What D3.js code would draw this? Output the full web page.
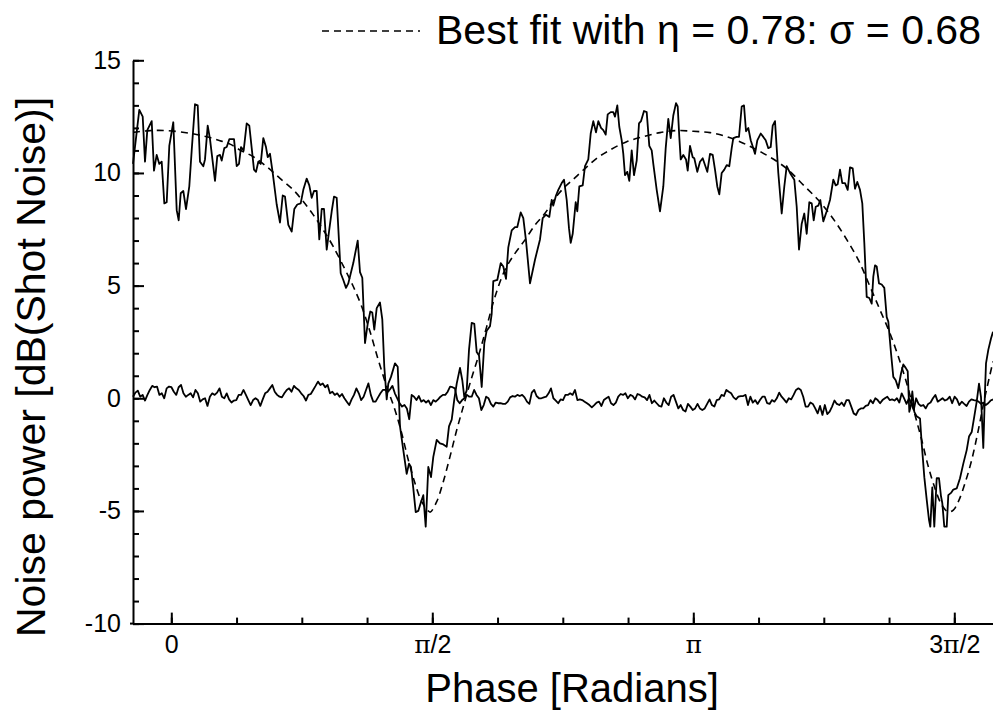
<!DOCTYPE html>
<html>
<head>
<meta charset="utf-8">
<script src="https://cdn.jsdelivr.net/npm/d3@7"></script>
<style>
  body { margin: 0; background: #fff; }
  svg { display: block; }
  text { font-family: "Liberation Sans", Arial, Helvetica, sans-serif; fill: #000; }
</style>
</head>
<body>
<svg id="chart" width="993" height="715"></svg>
<script>
// Homodyne noise power of the squeezed beam as the local-oscillator phase is swept: [phase (rad), dB]
const measuredNoise = [
  [-0.2305,10.4],[-0.1926,12.8],[-0.1721,12.5],[-0.1583,10.5],[-0.1444,11.9],[-0.118,12.3],[-0.1041,10.1],[-0.0879,10.8],[-0.0722,10.4],[-0.0578,10.5],
  [-0.0421,8.65],[-0.0277,8.7],[-0.012,11.2],[0.012,12.25],[0.0325,8.35],[0.0445,7.9],[0.0566,9.1],[0.0722,9.2],[0.0885,8.4],[0.1083,9.4],
  [0.1228,11.0],[0.1426,13.05],[0.1589,13.0],[0.1727,10.5],[0.1926,10.3],[0.2028,10.6],[0.2191,12.1],[0.2329,11.5],[0.263,9.65],[0.2768,10.75],
  [0.2931,10.8],[0.3033,10.55],[0.319,11.1],[0.3334,11.15],[0.3491,11.5],[0.3774,11.5],[0.3936,10.3],[0.4074,10.4],[0.4195,11.15],[0.4357,11.0],
  [0.4538,12.2],[0.4694,12.1],[0.4839,11.1],[0.4977,10.15],[0.5098,10.05],[0.5236,10.5],[0.538,10.4],[0.5537,11.55],[0.5699,11.15],[0.5802,10.7],
  [0.594,10.85],[0.6103,10.0],[0.6343,8.6],[0.6542,7.8],[0.6705,9.0],[0.6843,8.95],[0.7042,7.7],[0.7246,7.4],[0.7403,8.4],[0.7583,8.6],
  [0.7788,8.65],[0.7944,9.25],[0.8149,9.75],[0.8305,9.45],[0.845,8.9],[0.8588,9.2],[0.8751,9.2],[0.8907,7.05],[0.9052,8.4],[0.919,8.4],
  [0.9353,6.6],[0.9509,7.5],[0.9654,8.3],[0.9792,8.95],[0.9954,8.9],[1.0195,5.55],[1.0352,5.25],[1.0514,4.9],[1.0653,5.1],[1.0953,6.0],
  [1.1218,7.0],[1.1357,5.6],[1.1495,5.35],[1.1658,2.45],[1.182,3.3],[1.1977,3.85],[1.2097,3.8],[1.2217,3.05],[1.2362,4.0],[1.256,4.25],
  [1.2699,3.5],[1.2819,1.4],[1.2964,-0.05],[1.306,0.65],[1.3222,0.95],[1.3463,1.55],[1.3626,1.4],[1.3764,-1.25],[1.3963,-2.3],[1.4167,-3.35],
  [1.4306,-2.9],[1.4426,-3.05],[1.4565,-4.0],[1.4709,-5.05],[1.4865,-5.0],[1.5028,-4.6],[1.5166,-4.3],[1.5311,-5.7],[1.5467,-3.05],[1.563,-3.5],
  [1.5768,-2.6],[1.5973,-1.85],[1.6171,-2.0],[1.637,-2.05],[1.6575,-2.15],[1.6713,-1.25],[1.6876,-0.95],[1.7032,-0.05],[1.7177,0.65],[1.7375,1.35],
  [1.7514,0.8],[1.7634,0.05],[1.7778,0.35],[1.7917,2.15],[1.8079,3.35],[1.8236,3.3],[1.838,2.05],[1.8519,1.9],[1.8681,0.5],[1.8838,2.45],
  [1.8982,3.0],[1.9181,3.2],[1.9283,3.75],[1.9379,5.2],[1.962,5.25],[1.9825,6.0],[1.9981,5.85],[2.0144,5.3],[2.0282,6.7],[2.0487,7.45],
  [2.0685,7.6],[2.0824,7.6],[2.1028,8.25],[2.1185,8.0],[2.1347,7.0],[2.1588,5.1],[2.1889,6.15],[2.219,7.05],[2.2352,8.0],[2.2551,8.15],
  [2.275,8.05],[2.2894,8.8],[2.299,8.55],[2.3153,9.0],[2.3291,9.25],[2.3496,9.55],[2.3634,9.7],[2.3797,8.8],[2.3935,7.55],[2.4038,6.9],
  [2.4158,7.3],[2.4338,8.7],[2.4435,8.3],[2.4555,9.4],[2.476,9.45],[2.4898,10.3],[2.5097,10.6],[2.5241,11.75],[2.5398,12.3],[2.556,11.8],
  [2.5699,12.3],[2.5861,12.0],[2.5999,11.9],[2.6144,11.7],[2.6264,12.6],[2.6445,12.7],[2.6601,12.7],[2.6704,12.5],[2.6842,13.0],[2.6962,12.05],
  [2.7107,11.45],[2.7203,10.85],[2.7305,9.9],[2.7444,10.05],[2.7564,9.65],[2.7709,11.0],[2.7847,9.9],[2.801,10.55],[2.8148,12.2],[2.8268,12.3],
  [2.8449,12.75],[2.8611,12.7],[2.8768,11.2],[2.8912,11.0],[2.9009,10.4],[2.9213,9.25],[2.9412,8.3],[2.9611,9.4],[2.9755,11.1],[2.9911,12.4],
  [3.0056,11.55],[3.0212,12.55],[3.0375,13.1],[3.0477,12.95],[3.0573,11.6],[3.0658,10.6],[3.0814,10.8],[3.0977,10.6],[3.1079,10.1],[3.1218,11.2],
  [3.138,10.7],[3.1476,10.65],[3.1657,10.05],[3.1819,10.5],[3.1982,10.65],[3.212,10.35],[3.2259,10.05],[3.2421,10.85],[3.2584,10.8],[3.2722,10.15],
  [3.286,9.4],[3.2981,9.05],[3.3125,10.0],[3.3282,10.15],[3.3426,10.35],[3.3583,10.3],[3.3727,11.1],[3.3823,11.55],[3.4028,11.6],[3.4166,11.6],
  [3.4329,12.95],[3.4467,13.0],[3.4588,11.85],[3.4726,12.0],[3.4871,11.45],[3.5027,11.1],[3.5129,10.85],[3.5268,11.45],[3.5472,11.75],[3.5629,11.6],
  [3.5773,11.45],[3.593,11.1],[3.6074,11.15],[3.6195,12.1],[3.6333,12.3],[3.6532,10.0],[3.6736,8.2],[3.6893,9.4],[3.7037,10.3],[3.7236,10.0],
  [3.7495,9.7],[3.7639,8.5],[3.7778,6.6],[3.794,7.75],[3.8096,8.2],[3.8241,7.3],[3.8397,8.7],[3.8542,8.65],[3.8662,7.9],[3.8783,8.5],
  [3.8939,8.55],[3.9059,8.8],[3.924,7.85],[3.9444,8.3],[3.9643,8.8],[3.9842,9.7],[3.9986,9.45],[4.0106,9.5],[4.0245,10.15],[4.0383,9.55],
  [4.0546,9.55],[4.0708,9.25],[4.0847,10.25],[4.1009,10.2],[4.1148,9.3],[4.1286,9.6],[4.1449,9.25],[4.1587,8.65],[4.1708,6.9],[4.1852,4.5],
  [4.2008,4.45],[4.2153,4.2],[4.2249,5.4],[4.2352,5.9],[4.2454,5.85],[4.2592,5.1],[4.2755,5.05],[4.2911,4.9],[4.3056,3.6],[4.3152,3.4],
  [4.3315,2.0],[4.3453,0.95],[4.3597,0.8],[4.3754,0.45],[4.3916,1.1],[4.4055,1.5],[4.4199,1.35],[4.432,1.2],[4.4416,-0.6],[4.4518,-0.3],
  [4.4597,0.3],[4.4717,-0.6],[4.4861,-0.8],[4.506,-0.9],[4.5162,-2.0],[4.5319,-3.5],[4.5463,-4.5],[4.5601,-5.4],[4.568,-5.7],[4.58,-3.95],
  [4.592,-5.7],[4.6065,-3.55],[4.6203,-3.55],[4.6324,-4.35],[4.6402,-4.65],[4.6522,-5.7],[4.6667,-5.7],[4.6763,-4.3],[4.6925,-4.2],[4.7064,-4.05],
  [4.7268,-4.0],[4.7467,-3.55],[4.7666,-2.9],[4.787,-2.3],[4.8009,-1.7],[4.8171,-1.5],[4.8328,-0.8],[4.8472,-0.15],[4.8611,0.65],[4.8731,0.05],
  [4.8869,-2.2],[4.8972,0.35],[4.9032,1.55],[4.917,2.15],[4.9333,2.65],[4.9453,2.95]
];

// Shot-noise reference trace, sampled evenly across the phase sweep (dB)
const shotNoisePhaseSpan = [-0.2305, 4.9453];
const shotNoiseDb = [
  0.07,0.25,0.34,0.07,0.15,-0.1,0.15,0.37,0.55,0.49,
  0.52,0.15,0.22,0.0,0.44,0.52,0.49,0.29,0.15,0.49,
  0.59,0.22,0.07,0.15,0.22,0.04,0.37,0.22,-0.15,-0.05,
  0.0,-0.34,0.07,0.22,0.15,0.25,0.44,0.07,0.0,0.22,
  -0.05,-0.19,-0.1,-0.08,0.15,0.15,0.37,0.15,-0.08,-0.3,
  -0.08,0.0,-0.08,-0.34,-0.05,0.22,0.29,0.44,0.59,0.29,
  0.15,0.07,0.04,0.22,0.37,0.44,0.29,0.55,0.44,0.37,
  0.22,0.1,-0.1,0.15,0.19,0.37,0.55,0.74,0.59,0.66,
  0.49,0.59,0.22,0.29,0.15,0.22,0.07,0.19,0.0,-0.15,
  -0.3,-0.05,0.15,0.44,0.22,-0.08,0.07,0.37,0.66,0.15,
  -0.15,-0.15,0.04,0.22,0.37,0.37,0.29,0.4,0.55,0.22,
  0.0,-0.22,-0.37,-0.3,-0.45,-0.93,0.15,0.07,-0.08,0.1,
  -0.15,-0.08,-0.19,-0.1,-0.3,-0.08,-0.15,-0.05,0.07,0.15,
  0.15,0.29,0.52,0.49,0.44,-0.08,-0.22,-0.08,0.0,0.15,
  0.07,0.07,0.37,0.15,0.0,-0.52,-0.3,0.07,0.0,-0.25,
  -0.37,-0.19,-0.22,-0.22,-0.25,-0.25,-0.15,0.04,0.1,0.07,
  0.15,0.1,0.15,0.04,-0.15,-0.25,0.25,0.37,0.1,0.0,
  0.0,0.04,0.07,0.22,0.44,0.0,-0.1,-0.22,-0.05,-0.08,
  0.15,0.15,0.22,0.15,0.37,-0.08,-0.05,-0.08,-0.15,-0.22,
  -0.3,-0.4,-0.3,-0.19,-0.15,-0.34,-0.08,0.0,0.07,-0.22,
  -0.3,-0.19,0.07,0.19,0.15,0.22,0.0,0.15,0.1,-0.05,
  0.19,0.15,0.07,0.04,-0.08,0.15,-0.22,-0.1,-0.22,-0.34,
  -0.37,0.0,-0.19,-0.3,0.07,0.15,-0.15,-0.45,-0.3,-0.52,
  -0.59,-0.25,-0.37,-0.52,-0.45,-0.25,-0.45,-0.52,-0.45,-0.25,
  -0.05,-0.3,-0.37,-0.08,-0.05,0.15,0.1,0.37,0.29,0.22,
  0.04,-0.05,0.07,0.1,0.1,0.15,-0.3,0.07,-0.19,-0.08,
  -0.25,-0.08,0.07,
  0.07,-0.22,-0.25,-0.08,-0.15,0.0,0.25,0.07,-0.05,-0.19,
  0.0,-0.05,0.15,0.37,0.44,0.37,0.07,-0.37,-0.37,-0.19,
  -0.25,-0.45,-0.67,-0.34,-0.74,-0.3,-0.7,-0.59,-0.37,-0.1,
  -0.25,-0.3,-0.19,-0.34,-0.08,-0.08,-0.37,-0.67,-0.74,-0.52,
  -0.45,-0.45,-0.34,-0.3,-0.08,-0.22,0.0,-0.08,-0.22,-0.08,
  0.0,0.07,-0.08,-0.05,-0.1,0.0,-0.19,0.22,0.0,-0.25,
  0.0,-0.22,-0.52,0.0,-0.25,-0.34,-0.3,-0.45,-0.25,-0.19,
  0.0,0.15,-0.15,-0.08,0.0,-0.1,-0.05,0.07,-0.22,0.07,
  -0.05,-0.3,-0.15,-0.25,-0.34,-0.15,-0.05,-0.08,-0.1,-0.15,
  -0.25,-0.19,-0.3,-0.22,-0.1,-0.05
];

// Best-fit prediction (dashed): [phase (rad), dB]
const fitCurve = [
  [-0.2305,11.8],[-0.1282,11.88],[-0.0277,11.88],[0.1125,11.76],[0.2131,11.61],[0.2931,11.43],[0.3533,11.28],[0.4135,11.02],
  [0.4935,10.72],[0.5742,10.28],[0.6542,9.76],[0.7342,9.25],[0.7944,8.73],[0.8546,8.14],[0.9148,7.47],[0.975,6.73],
  [1.0454,5.72],[1.0953,4.96],[1.1459,4.07],[1.1959,2.96],[1.2458,1.7],[1.2964,0.52],[1.3463,-0.52],[1.3866,-1.55],
  [1.4264,-2.74],[1.4667,-3.77],[1.507,-4.59],[1.5467,-5.0],[1.5588,-5.05],[1.5973,-4.59],[1.637,-3.7],[1.6773,-2.59],
  [1.7177,-1.41],[1.7574,-0.37],[1.7977,0.67],[1.8476,1.85],[1.8982,3.18],[1.9482,4.51],[2.0083,5.7],[2.0685,6.43],
  [2.1287,7.03],[2.1889,7.69],[2.2491,8.21],[2.3093,8.88],[2.3694,9.39],[2.4194,9.72],[2.4796,10.13],[2.5602,10.65],
  [2.6403,11.02],[2.7408,11.39],[2.8407,11.61],[2.9412,11.79],[3.0417,11.88],[3.1416,11.85],[3.2421,11.79],[3.3426,11.61],
  [3.4425,11.32],[3.543,10.95],[3.6435,10.52],[3.7134,10.13],[3.8139,9.39],[3.8939,8.8],[3.9746,8.06],[4.0546,7.17],
  [4.1346,6.14],[4.205,4.96],[4.2652,3.92],[4.3254,2.88],[4.3754,1.85],[4.4259,0.67],[4.4759,-0.74],[4.5162,-1.85],
  [4.5559,-3.03],[4.5962,-4.0],[4.6366,-4.73],[4.6763,-5.05],[4.7064,-4.96],[4.7365,-4.59],[4.7768,-3.77],[4.8171,-2.74],
  [4.8569,-1.41],[4.8972,0.07],[4.9453,1.63]
];

const phaseDomain = [-0.2305, 4.9453];
const noiseDomain = [-10, 15];
const phaseMajorTicks = [0, Math.PI / 2, Math.PI, 3 * Math.PI / 2];
const phaseTickLabels = [["0"], ["π", "/2"], ["π"], ["3", "π", "/2"]];
const phaseMinorTicks = d3.range(0, 13).map(k => k * Math.PI / 8);
const noiseMajorTicks = [-10, -5, 0, 5, 10, 15];
const noiseMinorTicks = d3.range(-10, 16, 1);
const legendLabel = "Best fit with η = 0.78: σ = 0.68";

const svg = d3.select("#chart");
svg.append("rect").attr("width", 993).attr("height", 715).attr("fill", "#fff");

const plot = { left: 133, right: 993, top: 60.3, bottom: 623.6 };
const x = d3.scaleLinear().domain(phaseDomain).range([plot.left, plot.right]);
const y = d3.scaleLinear().domain(noiseDomain).range([plot.bottom, plot.top]);

// Axes: ticks point into the plot area, minor ticks shorter
function styleAxis(g) {
  g.selectAll("path.domain").attr("stroke", "#000").attr("stroke-width", 2);
  g.selectAll(".tick line").attr("stroke", "#000").attr("stroke-width", 2);
}

svg.append("g")
  .attr("transform", `translate(${plot.left},0)`)
  .call(d3.axisLeft(y).tickValues(noiseMinorTicks).tickSize(-6).tickFormat(""))
  .call(styleAxis)
  .call(g => g.select("path.domain").remove());

svg.append("g")
  .attr("transform", `translate(${plot.left},0)`)
  .call(d3.axisLeft(y).tickValues(noiseMajorTicks).tickSizeInner(-11).tickSizeOuter(0)
    .tickPadding(12).tickFormat(d => String(d)))
  .call(styleAxis)
  .call(g => g.selectAll(".tick text").attr("font-size", 25).attr("font-family", "Liberation Sans, Arial, sans-serif"));

svg.append("g")
  .attr("transform", `translate(0,${plot.bottom})`)
  .call(d3.axisBottom(x).tickValues(phaseMinorTicks.filter(v => v >= phaseDomain[0] && v <= phaseDomain[1]))
    .tickSize(-6).tickFormat(""))
  .call(styleAxis)
  .call(g => g.select("path.domain").remove());

const xAxisG = svg.append("g")
  .attr("transform", `translate(0,${plot.bottom})`)
  .call(d3.axisBottom(x).tickValues(phaseMajorTicks).tickSizeInner(-11).tickSizeOuter(0)
    .tickPadding(12).tickFormat(""))
  .call(styleAxis);

xAxisG.selectAll(".tick text").each(function(d, i) {
  const t = d3.select(this).attr("font-size", 25).attr("font-family", "Liberation Sans, Arial, sans-serif");
  phaseTickLabels[i].forEach(part => {
    t.append("tspan")
      .attr("font-family", part === "π" ? "DejaVu Serif, Liberation Serif, serif" : null)
      .text(part);
  });
});

// Extend the bottom axis line slightly left of the vertical axis
svg.append("line")
  .attr("x1", plot.left - 3).attr("x2", plot.left)
  .attr("y1", plot.bottom).attr("y2", plot.bottom)
  .attr("stroke", "#000").attr("stroke-width", 2);

// Traces
const line = d3.line().x(d => x(d[0])).y(d => y(d[1]));
const fitLine = d3.line().x(d => x(d[0])).y(d => y(d[1])).curve(d3.curveCatmullRom.alpha(0.5));

const shotStep = (shotNoisePhaseSpan[1] - shotNoisePhaseSpan[0]) / (shotNoiseDb.length - 1);
const shotNoise = shotNoiseDb.map((v, i) => [shotNoisePhaseSpan[0] + i * shotStep, v]);

svg.append("path").datum(shotNoise)
  .attr("d", line).attr("fill", "none").attr("stroke", "#000")
  .attr("stroke-width", 1.8).attr("stroke-linejoin", "round");

svg.append("path").datum(fitCurve)
  .attr("d", fitLine).attr("fill", "none").attr("stroke", "#000")
  .attr("stroke-width", 1.6).attr("stroke-dasharray", "7,5");

svg.append("path").datum(measuredNoise)
  .attr("d", line).attr("fill", "none").attr("stroke", "#000")
  .attr("stroke-width", 1.8).attr("stroke-linejoin", "round");

// Axis titles
svg.append("text")
  .attr("x", 572).attr("y", 702)
  .attr("text-anchor", "middle").attr("font-size", 40)
  .text("Phase [Radians]");

svg.append("text")
  .attr("transform", "translate(45,367) rotate(-90)")
  .attr("text-anchor", "middle").attr("font-size", 41)
  .text("Noise power [dB(Shot Noise)]");

// Legend
svg.append("line")
  .attr("x1", 322).attr("x2", 420).attr("y1", 31).attr("y2", 31)
  .attr("stroke", "#000").attr("stroke-width", 1.6).attr("stroke-dasharray", "7,5");

svg.append("text")
  .attr("x", 436).attr("y", 44).attr("font-size", 41)
  .text(legendLabel);
</script>
</body>
</html>
